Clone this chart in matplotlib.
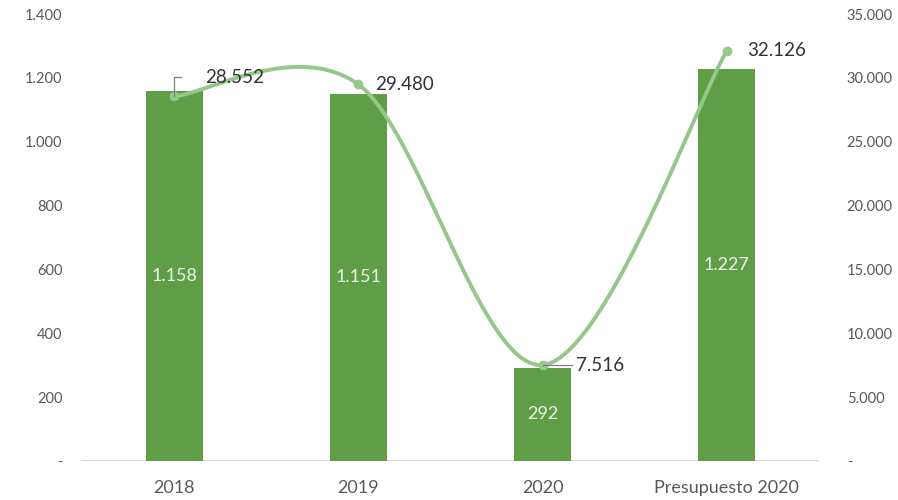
import numpy as np
import matplotlib.pyplot as plt

plt.rcParams['font.family'] = ['Lato', 'DejaVu Sans']

categorias = ["2018", "2019", "2020", "Presupuesto 2020"]
barras = [1158, 1151, 292, 1227]
linea = [28552, 29480, 7516, 32126]
etiq_barras = ["1.158", "1.151", "292", "1.227"]
etiq_linea = ["28.552", "29.480", "7.516", "32.126"]
ticks_izq = [0, 200, 400, 600, 800, 1000, 1200, 1400]
etiq_izq = ["-", "200", "400", "600", "800", "1.000", "1.200", "1.400"]
ticks_der = [0, 5000, 10000, 15000, 20000, 25000, 30000, 35000]
etiq_der = ["-", "5.000", "10.000", "15.000", "20.000", "25.000", "30.000", "35.000"]

verde_barra = "#5f9e47"
verde_linea = "#95c68a"
gris = "#595959"


def catmull(xs, ys, n=60):
    # curva suavizada tipo Excel
    px = np.concatenate([[xs[0]], xs, [xs[-1]]])
    py = np.concatenate([[ys[0]], ys, [ys[-1]]])
    ox, oy = [], []
    for i in range(1, len(px) - 2):
        t = np.linspace(0, 1, n)
        for p, out in ((px, ox), (py, oy)):
            p0, p1, p2, p3 = p[i - 1], p[i], p[i + 1], p[i + 2]
            m1 = (p2 - p0) / 2.0
            m2 = (p3 - p1) / 2.0
            h00 = 2 * t**3 - 3 * t**2 + 1
            h10 = t**3 - 2 * t**2 + t
            h01 = -2 * t**3 + 3 * t**2
            h11 = t**3 - t**2
            out.extend(h00 * p1 + h10 * m1 + h01 * p2 + h11 * m2)
    return np.array(ox), np.array(oy)


fig = plt.figure(figsize=(8.98, 5.0), dpi=100)
ax = fig.add_axes([82 / 898, 39 / 500, (819 - 82) / 898, 447 / 500])
ax2 = ax.twinx()

x = np.arange(len(categorias))
ax.bar(x, barras, width=0.31, color=verde_barra, zorder=2)
ax.set_xlim(-0.5, 3.5)
ax.set_ylim(0, 1400)
ax.set_yticks(ticks_izq)
ax.set_yticklabels(etiq_izq)
ax.set_xticks(x)
ax.set_xticklabels(categorias, fontsize=13, color=gris)

for xi, v, t in zip(x, barras, etiq_barras):
    ax.text(xi, v / 2, t, ha="center", va="center",
            color="#eef5ea", fontsize=13)

cx, cy = catmull(x.astype(float), np.array(linea, dtype=float))
ax2.plot(cx, cy, color=verde_linea, lw=2.8, zorder=3, solid_capstyle="round")
ax2.plot(x, linea, "o", color=verde_linea, ms=6, zorder=4)
ax2.set_ylim(0, 35000)
ax2.set_yticks(ticks_der)
ax2.set_yticklabels(etiq_der)

# etiquetas de la linea
offs = [(0.17, 1500), (0.09, 0), (0.18, 0), (0.11, 0)]
for i, (dx, dy) in enumerate(offs):
    ax2.text(x[i] + dx, linea[i] + dy, etiq_linea[i], ha="left", va="center",
             fontsize=13.5, color="#333333", zorder=5)
# lineas guia
ax2.plot([x[0], x[0], x[0] + 0.04], [linea[0], linea[0] + 1500, linea[0] + 1500],
         color="#7f7f7f", lw=0.9, zorder=5)
ax2.plot([x[2], x[2] + 0.16], [linea[2], linea[2]], color="#7f7f7f", lw=0.9, zorder=5)

for a in (ax, ax2):
    for s in a.spines.values():
        s.set_visible(False)
    a.tick_params(length=0, labelsize=10.5, labelcolor=gris)
ax.tick_params(axis="x", labelsize=13, pad=14)
ax.tick_params(axis="y", pad=14)
ax2.tick_params(axis="y", pad=20)
ax.axhline(0, color="#d0d0d0", lw=1.2, zorder=1)

fig.savefig("out.png", dpi=100)
